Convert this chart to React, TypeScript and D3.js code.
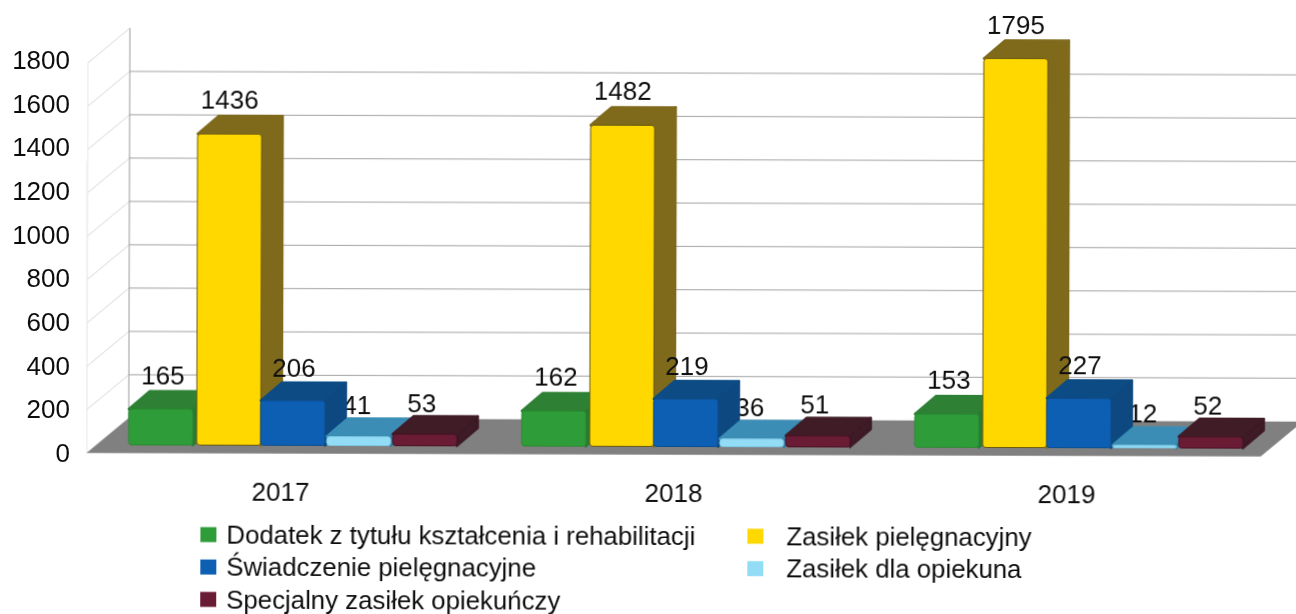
import React from "react";
import * as d3 from "d3";

const years = ["2017", "2018", "2019"];
const seriesNames = [
  "Dodatek z tytułu kształcenia i rehabilitacji",
  "Zasiłek pielęgnacyjny",
  "Świadczenie pielęgnacyjne",
  "Zasiłek dla opiekuna",
  "Specjalny zasiłek opiekuńczy",
];
const values = [
  [165, 162, 153],
  [1436, 1482, 1795],
  [206, 219, 227],
  [41, 36, 12],
  [53, 51, 52],
];
const ticks = [0, 200, 400, 600, 800, 1000, 1200, 1400, 1600, 1800];
const frontColors = ["#2f9c38", "#ffd800", "#0b5fb4", "#93dcf6", "#6a1c36"];
const topColors = ["#2f8035", "#7f6a1e", "#0b4c84", "#3a8db5", "#401c28"];
const sideColors = ["#2a7a32", "#7f6a1e", "#0a4a80", "#2f7da5", "#3d1a26"];
const strokeColors = ["#2a8a30", "#6b5a10", "#0a4f90", "#7cc4e0", "#4a1426"];
const barNudge = [0, 2, 0, 0, 0];
const labelDx = [2, 0, 1, -2, -3];
const labelDy = [-34, -34, -33, -32, -31];

const font = "'Liberation Sans', Arial, sans-serif";
const FLOOR_L = 88;
const FLOOR_R = 1262;
const Y0 = 452.7;
const WALL_DX = 42;
const WALL_DY = -35;
const BAR_BASE = 444.5;
const BAR_DX = 21;
const BAR_DY = -18;
const BAR_W = 64;

const yScale = d3.scaleLinear().domain([0, 1800]).range([Y0, Y0 - 390]);
const tickLabelY = d3.scaleLinear().domain([0, 1800]).range([453, 60]);
const hScale = d3.scaleLinear().domain([0, 1800]).range([0, 390]);
const groupX = d3.scaleBand<string>().domain(years).range([130, 1309]);
const innerX = d3.scaleBand<number>().domain([0, 1, 2, 3, 4]).range([0, 330]);
const poly = d3.line<[number, number]>().curve(d3.curveLinearClosed);

export default function App() {
  const bars = years.flatMap((yr, g) =>
    values.map((vals, s) => {
      const x = (groupX(yr) as number) + (innerX(s) as number) + barNudge[s];
      const top = BAR_BASE - hScale(vals[g]);
      return { key: `${g}-${s}`, x, top, s, v: vals[g] };
    })
  );
  const label = (b: (typeof bars)[number]) => (
    <text key={"l" + b.key} x={b.x + BAR_W / 2 + labelDx[b.s]} y={b.top + labelDy[b.s]} textAnchor="middle"
      dominantBaseline="central" fontSize={26} fill="#111">{b.v}</text>
  );
  return (
    <svg width={1296} height={614} style={{ position: "fixed", left: 0, top: 0, background: "#fff" }} fontFamily={font}>
      <defs>
        <filter id="scan" x="-5%" y="-5%" width="110%" height="110%">
          <feGaussianBlur stdDeviation="0.55" />
        </filter>
      </defs>
      <g filter="url(#scan)">
        {ticks.map((t) => (
          <text key={t} x={70} y={tickLabelY(t)} textAnchor="end" dominantBaseline="central" fontSize={26} fill="#111">{t}</text>
        ))}
        <g transform="rotate(0.17)">
          {ticks.map((t) => (
            <g key={t} stroke="#a3a3a3" strokeWidth={1} fill="none">
              <line x1={FLOOR_L} y1={yScale(t)} x2={FLOOR_L + WALL_DX} y2={yScale(t) + WALL_DY} stroke="#d6d6d6" />
              {t > 0 && t < 1800 && <line x1={FLOOR_L + WALL_DX} y1={yScale(t) + WALL_DY} x2={1300} y2={yScale(t) + WALL_DY} />}
            </g>
          ))}
          <line x1={FLOOR_L + WALL_DX} y1={yScale(0) + WALL_DY} x2={FLOOR_L + WALL_DX} y2={yScale(1800) + WALL_DY} stroke="#9a9a9a" />
          <line x1={FLOOR_L} y1={yScale(0)} x2={FLOOR_L} y2={yScale(1800)} stroke="#e4e4e4" />
          <path
            d={poly([[FLOOR_L, Y0], [FLOOR_L + WALL_DX, Y0 + WALL_DY], [FLOOR_R + WALL_DX, Y0 + WALL_DY], [FLOOR_R, Y0]]) as string}
            fill="#808080"
          />
          {bars.filter((b) => b.s === 3).map(label)}
          {bars.map((b) => {
            const r = b.x + BAR_W;
            return (
              <g key={b.key} strokeLinejoin="round">
                <path
                  d={poly([[b.x, b.top], [b.x + BAR_DX, b.top + BAR_DY], [r + BAR_DX, b.top + BAR_DY], [r, b.top]]) as string}
                  fill={topColors[b.s]} stroke={topColors[b.s]} strokeWidth={2.5}
                />
                <path
                  d={poly([[r, b.top], [r + BAR_DX, b.top + BAR_DY], [r + BAR_DX, BAR_BASE + BAR_DY], [r, BAR_BASE]]) as string}
                  fill={sideColors[b.s]} stroke={sideColors[b.s]} strokeWidth={2.5}
                />
                <rect x={b.x} y={b.top} width={BAR_W} height={BAR_BASE - b.top} rx={3}
                  fill={frontColors[b.s]} stroke={strokeColors[b.s]} strokeWidth={1} />
              </g>
            );
          })}
          {bars.filter((b) => b.s !== 3).map(label)}
          {years.map((yr) => (
            <text key={yr} x={(groupX(yr) as number) + 152} y={491} textAnchor="middle" dominantBaseline="central" fontSize={26} fill="#111">{yr}</text>
          ))}
          {seriesNames.map((n, i) => {
            const col = i % 2;
            const row = Math.floor(i / 2);
            const x = col === 0 ? 202 : 749;
            const y = 534 + row * 32.4;
            return (
              <g key={n}>
                <rect x={x} y={y - 7.5} width={16} height={15} fill={frontColors[i]} />
                <text x={col === 0 ? 228 : 788} y={y} dominantBaseline="central" fontSize={25.8} fill="#111">{n}</text>
              </g>
            );
          })}
        </g>
      </g>
    </svg>
  );
}
